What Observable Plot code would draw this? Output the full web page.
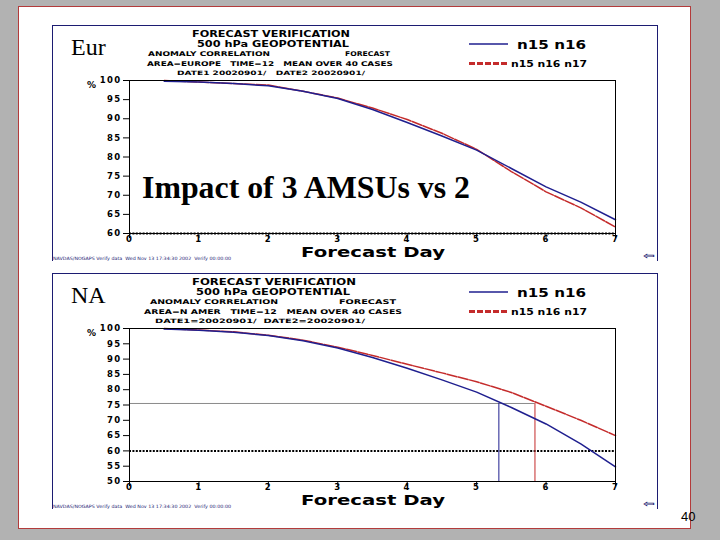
<!DOCTYPE html>
<html><head><meta charset="utf-8">
<script src="https://cdn.jsdelivr.net/npm/d3@7"></script>
<script src="https://cdn.jsdelivr.net/npm/@observablehq/plot@0.6"></script>
<style>
html,body{margin:0;padding:0;}
body{width:720px;height:540px;background:#b2b2b2;position:relative;overflow:hidden;}
.slide{position:absolute;left:18px;top:6px;width:671px;height:521px;background:#fff;border:1px solid #b33b3b;}
.panel{position:absolute;border:1.5px solid #1c1c72;border-bottom:none;box-sizing:border-box;}
.chart{position:absolute;left:52px;width:605px;}
#overlay{position:absolute;left:0;top:0;}
#overlay text{white-space:pre;}
</style>
</head><body>
<div class="slide"></div>
<div class="panel" style="left:52px;top:25px;width:606px;height:236px;"></div>
<div class="panel" style="left:52px;top:273px;width:606px;height:236px;"></div>
<div class="chart" id="eur" style="top:25px;"></div>
<div class="chart" id="na" style="top:273px;"></div>
<svg id="overlay" width="720" height="540"></svg>
<script>
// ---- data ----
const days = [0.5,1,1.5,2,2.5,3,3.5,4,4.5,5,5.5,6,6.5,7];
const seriesNames = ["n15 n16", "n15 n16 n17"];
const eurN15N16   = [99.8,99.6,99.2,98.6,97.2,95.3,92.4,89.0,85.5,81.8,77.0,72.2,68.2,63.6];
const eurN15N16N17 = [100,99.6,99.2,98.8,97.2,95.4,92.8,89.8,86.2,82.0,76.2,70.9,66.7,61.7];
const naN15N16    = [99.8,99.4,98.8,97.7,96.0,93.6,90.5,87.0,83.2,79.2,74.2,68.8,62.3,54.8];
const naN15N16N17 = [100,99.5,98.9,97.8,96.2,93.9,91.2,88.3,85.5,82.6,79.1,74.6,70.0,65.0];
const xTicks = [0,1,2,3,4,5,6,7];
const eurYTicks = [60,65,70,75,80,85,90,95,100];
const naYTicks = [50,55,60,65,70,75,80,85,90,95,100];
const threshold = [60];
const naRefLevel = 75.5;
const naCrossDays = [5.32, 5.84];

const BLUE = "#1f1f8f", RED = "#c42b2b";
const colors = [BLUE, RED];

function rows(a, b) {
  return [
    ...days.map((d, i) => ({day: d, value: a[i], series: seriesNames[0]})),
    ...days.map((d, i) => ({day: d, value: b[i], series: seriesNames[1]}))
  ];
}

function chart(a, b, yMin, yTicks, extra) {
  const data = rows(a, b);
  const svg = Plot.plot({
    width: 605, height: 248,
    marginLeft: 77, marginRight: 42, marginTop: 55, marginBottom: 40,
    x: {domain: [0, 7]},
    y: {domain: [yMin, 100]},
    style: {background: "transparent", overflow: "visible", fontFamily: "DejaVu Sans", fontSize: "8.5px"},
    marks: [
      Plot.ruleY(threshold, {stroke: "black", strokeWidth: 2, strokeDasharray: "2,1.4"}),
      ...extra,
      Plot.line(data.filter(d => d.series === seriesNames[1]), {x: "day", y: "value", stroke: RED, strokeWidth: 1.5, strokeDasharray: "10,1.5"}),
      Plot.line(data.filter(d => d.series === seriesNames[0]), {x: "day", y: "value", stroke: BLUE, strokeWidth: 1.5}),
      Plot.frame({stroke: "black", strokeWidth: 1}),
      Plot.axisX({ticks: xTicks, tickSize: 5, tickPadding: -3, fontWeight: "bold", tickFormat: d => String(d), label: null}),
      Plot.axisY({ticks: yTicks, tickSize: 6, tickPadding: 2, fontWeight: "bold", label: null})
    ]
  });
  d3.select(svg).selectAll("g[aria-label$='tick label'] text").style("letter-spacing", "1.3px").style("font-weight", "bold");
  return svg;
}

document.getElementById("eur").append(chart(eurN15N16, eurN15N16N17, 60, eurYTicks, []));
const refRows = [{y: naRefLevel, x1: 0, x2: naCrossDays[1]}];
const crossRows = naCrossDays.map((d, i) => ({x: d, y1: 50, y2: naRefLevel, c: colors[i]}));
document.getElementById("na").append(chart(naN15N16, naN15N16N17, 50, naYTicks, [
  Plot.ruleY(refRows, {y: "y", x1: "x1", x2: "x2", stroke: "#8a8a8a", strokeWidth: 1}),
  Plot.ruleX(crossRows, {x: "x", y1: "y1", y2: "y2", stroke: "c", strokeWidth: 1})
]));

// ---- annotation text ----
const ov = d3.select("#overlay");
function txt(s, x, y, o) {
  const t = ov.append("text").attr("x", x).attr("y", y).text(s)
    .attr("font-family", o.family || "DejaVu Sans").attr("font-size", o.size)
    .attr("font-weight", o.weight || "bold").attr("fill", o.fill || "#000")
    .attr("text-anchor", o.anchor || "start");
  if (o.len) t.attr("textLength", o.len).attr("lengthAdjust", "spacingAndGlyphs");
  return t;
}
const headers = [
  [["FORECAST VERIFICATION", 192, 37, 8, 158], ["500 hPa GEOPOTENTIAL", 197, 47.2, 8, 152],
   ["ANOMALY CORRELATION", 148, 55.7, 6.5, 122], ["FORECAST", 345, 55.7, 6.5, 45],
   ["AREA=EUROPE   TIME=12   MEAN OVER 40 CASES", 147, 65.5, 6.5, 246],
   ["DATE1 20020901/   DATE2 20020901/", 177, 74.5, 6, 188]],
  [["FORECAST VERIFICATION", 192, 285, 8, 164], ["500 hPa GEOPOTENTIAL", 196, 295.2, 8, 154],
   ["ANOMALY CORRELATION", 150, 303.7, 6.5, 128], ["FORECAST", 339, 303.7, 6.5, 57],
   ["AREA=N AMER   TIME=12   MEAN OVER 40 CASES", 144, 313.5, 6.5, 258],
   ["DATE1=20020901/  DATE2=20020901/", 155, 322.5, 6, 210]]
];
const panelOffsets = [0, 248];
const regionLabels = ["Eur", "NA"];
headers.forEach((hs, p) => {
  const dy = panelOffsets[p];
  hs.forEach(h => txt(h[0], h[1], h[2], {size: h[3], len: h[4]}));
  // legend
  ov.append("line").attr("x1", 469).attr("x2", 508).attr("y1", 44 + dy).attr("y2", 44 + dy).attr("stroke", BLUE).attr("stroke-width", 1.3);
  ov.append("line").attr("x1", 469).attr("x2", 508).attr("y1", 63.5 + dy).attr("y2", 63.5 + dy).attr("stroke", RED).attr("stroke-width", 3).attr("stroke-dasharray", "6,2");
  txt(seriesNames[0], 517, 48.5 + dy, {size: 12, len: 69});
  txt(seriesNames[1], 511, 66.8 + dy, {size: 8.5, len: 76});
  // region label
  txt(regionLabels[p], 71, 55 + dy, {size: 24, family: "Liberation Serif", weight: "normal"});
  // % sign
  txt("%", 87, 88 + dy, {size: 9});
  // axis title
  txt("Forecast Day", 301, 256.5 + dy, {size: 13.5, len: 144});
  // footer
  txt("NAVDAS/NOGAPS Verify data  Wed Nov 13 17:34:30 2002  Verify 00:00:00", 53, 259.5 + dy, {size: 4.5, len: 178, fill: "#1c1c72", weight: "normal"});
  txt("\u21E6", 643, 259 + dy, {size: 9, len: 12, fill: "#1c1c72"});
});
txt("Impact of 3 AMSUs vs 2", 142, 198, {size: 32, family: "Liberation Serif", len: 328});
txt("40", 681, 521, {size: 13, family: "Liberation Sans", weight: "normal"});
</script>
</body></html>
